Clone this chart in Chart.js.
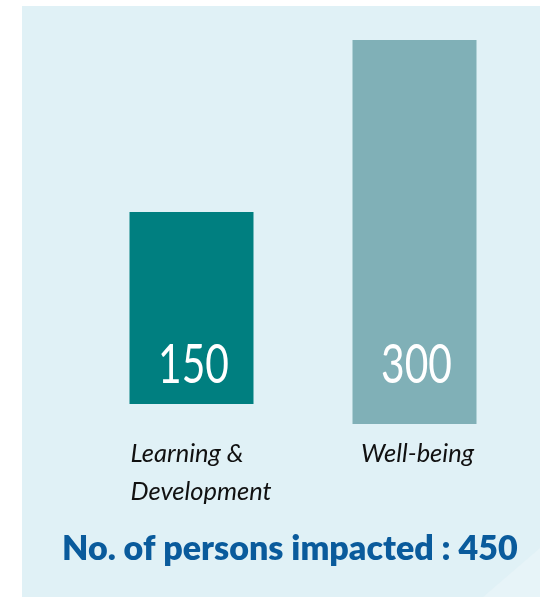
<!DOCTYPE html>
<html><head><meta charset="utf-8">
<script src="https://cdn.jsdelivr.net/npm/chart.js@4/dist/chart.umd.min.js"></script>
<style>html,body{margin:0;padding:0;background:#fff;}#wrap{width:540px;height:597px;position:relative}</style>
</head><body><div id="wrap"><canvas id="c" width="540" height="597"></canvas></div>
<script>
const categories = [["Learning &", "Development"], ["Well-being"]];
const values = [150, 300];
const summaryText = "No. of persons impacted : ";
const total = values.reduce((a, b) => a + b, 0);

const barColors = ['#007f80', '#80b0b7'];
const axisIds = ['yA', 'yB'];

const datasets = categories.map((c, i) => ({
  label: c.join(' '),
  data: values.map((v, j) => (j === i ? v : null)),
  backgroundColor: barColors[i],
  borderWidth: 0,
  yAxisID: axisIds[i],
  grouped: false,
  barPercentage: 1,
  categoryPercentage: 0.556
}));

const decor = {
  id: 'decor',
  beforeDraw(chart) {
    const ctx = chart.ctx;
    ctx.save();
    ctx.fillStyle = '#ffffff';
    ctx.fillRect(0, 0, chart.width, chart.height);
    ctx.fillStyle = '#e0f1f6';
    ctx.fillRect(22, 6, chart.width - 22, chart.height - 6);
    ctx.fillStyle = '#e7f4f8';
    ctx.beginPath();
    ctx.moveTo(483, chart.height);
    ctx.lineTo(chart.width, 548);
    ctx.lineTo(chart.width, chart.height);
    ctx.closePath();
    ctx.fill();
    ctx.restore();
  },
  afterDatasetsDraw(chart) {
    const ctx = chart.ctx;
    const area = chart.chartArea;
    const zero = chart.scales.yB.getPixelForValue(0);
    ctx.save();
    // value labels
    chart.data.datasets.forEach((ds, i) => {
      const bar = chart.getDatasetMeta(i).data[i];
      ctx.save();
      ctx.fillStyle = '#ffffff';
      ctx.font = '400 55px Lato';
      ctx.textAlign = 'center';
      ctx.textBaseline = 'alphabetic';
      ctx.translate(bar.x + 2, zero - 41);
      ctx.scale(0.74, 1);
      ctx.fillText(String(values[i]), 0, 0);
      ctx.restore();
    });
    // category labels
    ctx.fillStyle = '#111111';
    ctx.font = 'italic 400 25.5px Lato';
    ctx.textBaseline = 'alphabetic';
    categories.forEach((lines, i) => {
      const bar = chart.getDatasetMeta(i).data[i];
      lines.forEach((t, k) => {
        const y = area.bottom + 38 + k * 38;
        if (lines.length > 1) {
          ctx.textAlign = 'left';
          ctx.fillText(t, bar.x - bar.width / 2 + 1, y);
        } else {
          ctx.textAlign = 'center';
          ctx.fillText(t, bar.x + 3, y);
        }
      });
    });
    // summary title
    ctx.fillStyle = '#0a5b9c';
    ctx.font = '800 34px Lato';
    ctx.textAlign = 'left';
    const txt = summaryText + total;
    const w = ctx.measureText(txt).width;
    const target = 456;
    ctx.save();
    ctx.translate(area.left - 18, area.bottom + 136);
    ctx.scale(Math.min(1, target / w), 1);
    ctx.fillText(txt, 0, 0);
    ctx.restore();
    ctx.restore();
  }
};

new Chart(document.getElementById('c'), {
  type: 'bar',
  data: { labels: categories.map(c => c.join(' ')), datasets },
  options: {
    responsive: false,
    animation: false,
    layout: { padding: { left: 80, right: 14, top: 40, bottom: 173 } },
    scales: {
      x: { display: false, offset: true },
      yA: { display: false, min: -15.625, max: 284.375 },
      yB: { display: false, min: 0, max: 300 }
    },
    plugins: { legend: { display: false }, tooltip: { enabled: false }, title: { display: false } }
  },
  plugins: [decor]
});
</script>
</body></html>
